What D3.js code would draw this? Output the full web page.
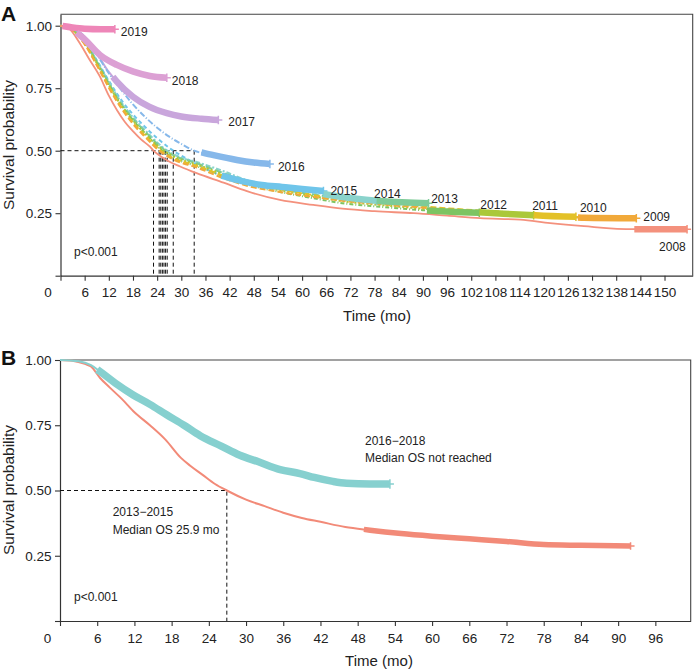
<!DOCTYPE html>
<html><head><meta charset="utf-8">
<script src="https://cdn.jsdelivr.net/npm/d3@7"></script>
<style>
body{margin:0;background:#fff}
text{font-family:"Liberation Sans",Arial,Helvetica,sans-serif;fill:#222}
</style>
</head><body>
<svg id="c" width="698" height="672"></svg>
<script>
// ---------------- DATA ----------------
const yearsA = ["2008","2009","2010","2011","2012","2013","2014","2015","2016","2017","2018","2019"];
const s2008 = [[0,1],[2,0.99],[4.8,0.93],[7,0.87],[9.8,0.796],[12,0.72],[14,0.663],[16,0.615],[18.1,0.576],[20,0.545],[22.2,0.516],[23.1,0.5],[26.4,0.462],[29.7,0.437],[33.8,0.41],[40.5,0.372],[46.3,0.338],[54.5,0.303],[62.8,0.283],[70,0.268],[78,0.258],[87.7,0.25],[96,0.24],[104.2,0.23],[114.2,0.224],[121.6,0.21],[130,0.198],[142.3,0.186],[155.6,0.186]];
const s2009 = [[0,1],[3,0.98],[6,0.925],[9,0.842],[12,0.752],[15,0.672],[18,0.607],[21,0.555],[24.5,0.5],[28,0.465],[33.8,0.433],[40.5,0.39],[46.3,0.36],[54.5,0.335],[62.8,0.315],[70,0.3],[80,0.285],[90,0.272],[100,0.262],[110,0.25],[120,0.238],[130,0.232],[143,0.23]];
const s2010 = [[0,1],[3,0.982],[6,0.928],[9,0.846],[12,0.757],[15,0.677],[18,0.612],[21,0.56],[24.9,0.5],[28,0.47],[33.8,0.44],[40.5,0.4],[46.3,0.37],[54.5,0.345],[62.8,0.322],[70,0.305],[80,0.29],[90,0.277],[100,0.265],[110,0.255],[118,0.242],[128,0.236]];
const s2011 = [[0,1],[3,0.982],[6,0.93],[9,0.85],[12,0.762],[15,0.683],[18,0.62],[21,0.568],[25.7,0.5],[29,0.47],[33.8,0.445],[40.5,0.405],[46.3,0.372],[54.5,0.342],[62.8,0.318],[70,0.298],[80,0.282],[90,0.268],[100,0.258],[110,0.248],[117.5,0.242]];
const s2012 = [[0,1],[3,0.983],[6,0.932],[9,0.852],[12,0.765],[15,0.685],[18,0.622],[21,0.57],[25.3,0.5],[29,0.465],[33.8,0.438],[40.5,0.398],[46.3,0.365],[54.5,0.335],[62.8,0.31],[70,0.29],[80,0.275],[90,0.262],[97,0.256],[104,0.252]];
const s2013 = [[0,1],[3,0.984],[6,0.935],[9,0.857],[12,0.77],[15,0.69],[18,0.628],[21,0.577],[26.1,0.5],[29,0.475],[33.8,0.45],[40.5,0.41],[46.3,0.377],[54.5,0.347],[62.8,0.325],[70,0.31],[80,0.298],[91.4,0.29]];
const s2014 = [[0,1],[3,0.985],[6,0.937],[9,0.86],[12,0.775],[15,0.696],[18,0.633],[21,0.582],[26.5,0.5],[30,0.472],[33.8,0.455],[40.5,0.418],[46.3,0.382],[54.5,0.355],[62.8,0.333],[70,0.315],[78.5,0.3]];
const s2015 = [[0,1],[3,0.986],[6,0.94],[9,0.862],[12,0.78],[15,0.705],[18,0.645],[21,0.595],[24,0.55],[28,0.5],[32,0.462],[36,0.428],[40,0.4],[45,0.378],[50,0.363],[55,0.355],[60,0.347],[65.3,0.339]];
const s2016 = [[0,1],[3,0.99],[6,0.955],[9,0.885],[12,0.81],[15,0.745],[18,0.685],[21,0.635],[24,0.592],[27,0.556],[30,0.527],[33.2,0.5],[38,0.482],[43.8,0.463],[48,0.453],[52,0.447]];
const s2017 = [[0,1],[3,0.99],[6,0.955],[9,0.89],[12,0.815],[14,0.776],[18,0.716],[22,0.676],[26.4,0.65],[30,0.637],[35,0.628],[39.2,0.623]];
const s2018 = [[0,1],[3,0.985],[5.7,0.95],[9.8,0.883],[14,0.843],[18.1,0.816],[22.2,0.799],[26.4,0.792]];
const s2019 = [[0,1],[3,0.993],[6,0.988],[10,0.986],[13.5,0.986]];
const seriesA = [s2008,s2009,s2010,s2011,s2012,s2013,s2014,s2015,s2016,s2017,s2018,s2019];
// time from which the dense censoring marks start
const censorStartA = [142.5,128.5,117.5,104,91,78.5,65.3,40,35,13,4,0.5];
const mediansA = [23.1,24.5,24.9,25.7,25.3,26.1,26.5,28.0,33.2];
const xTicksA = d3.range(0,151,6);
const yTicks = [0,0.25,0.5,0.75,1];
const yTickLabels = ["","0.25","0.50","0.75","1.00"];

const groupsB = ["2013\u22122015","2016\u22122018"];
const sB1315 = [[0,1],[2,0.997],[4,0.985],[5,0.975],[6.5,0.93],[8,0.895],[10,0.85],[12,0.8],[14.5,0.75],[17,0.695],[19.5,0.625],[21,0.595],[23,0.56],[25,0.525],[26.9,0.5],[30,0.465],[33,0.44],[36,0.415],[39,0.395],[42,0.38],[46,0.36],[50,0.348],[55,0.335],[60,0.325],[66,0.315],[72,0.305],[78,0.293],[84,0.29],[92,0.287]];
const sB1618 = [[0,1],[3,0.995],[5,0.98],[6.5,0.955],[9,0.91],[11.8,0.866],[14.5,0.83],[17.2,0.79],[20,0.75],[22.6,0.71],[26,0.67],[29,0.635],[32,0.61],[35.5,0.58],[38.7,0.565],[41,0.55],[44,0.535],[46.2,0.528],[50,0.525],[53.2,0.525]];
const censorStartB = [49, 6];
const medianB = 26.9;
const xTicksB = d3.range(0,97,6);

// ---------------- STYLE ----------------
const colA = ["#F4917D","#F1A93A","#E3C128","#ABC83A","#7DC462","#7DCB98","#8AD3CC","#6FC5EA","#86B8EA","#C9A6DC","#DCA0D4","#EE86B8"];
const dashA = [null,"6,3","6,3","2,2","4,2,1,2","7,3","5,2,2,2","4,3","6,2,1,2",null,null,null];
const labelDx = [-28,7,4,-1.5,1,2.6,-2.5,7,8,10,5,6];
const labelDy = [22,2.8,-4.7,-5.7,-4,-0.7,-3,4.5,6.6,6.5,6.8,6.8];
const colB = ["#F28A78","#86D0CF"];
const FS = 13.5;

const svg = d3.select("#c");

function interp(pts, t){
  for(let i=1;i<pts.length;i++){
    if(pts[i][0]>=t){
      const a=pts[i-1], b=pts[i], f=(t-a[0])/(b[0]-a[0]);
      return [t, a[1]+f*(b[1]-a[1])];
    }
  }
  return pts[pts.length-1];
}

function drawPanel(opt){
  const g = svg.append("g");
  const x = d3.scaleLinear().domain(opt.xDomain).range(opt.xRange);
  const y = d3.scaleLinear().domain(opt.yDomain).range(opt.yRange);
  g.append("path").attr("d",`M${opt.xRange[0]},${opt.yRange[1]}H${opt.xRange[1]}V${opt.yRange[0]}`)
    .attr("fill","none").attr("stroke","#444").attr("stroke-width",1.1);
  const xa = g.append("g").attr("transform",`translate(0,${opt.yRange[0]})`)
    .call(d3.axisBottom(x).tickValues(opt.xTicks).tickSize(5).tickSizeOuter(0).tickPadding(7).tickFormat(d3.format("d")));
  xa.selectAll("text").filter(d=>d===0).attr("x",-13);
  const ya = g.append("g").attr("transform",`translate(${opt.xRange[0]},0)`)
    .call(d3.axisLeft(y).tickValues(yTicks).tickSize(5).tickSizeOuter(0).tickPadding(3.5).tickFormat((d,i)=>yTickLabels[i]));
  [xa,ya].forEach(a=>{
    a.select(".domain").attr("stroke","#333").attr("stroke-width",1.2);
    a.selectAll(".tick line").attr("stroke","#333").attr("stroke-width",1.1);
    a.selectAll("text").attr("font-size",FS).attr("fill","#222").style("font-family",'"Liberation Sans",Arial,sans-serif');
  });
  return {g,x,y};
}

const line = (x,y)=>d3.line().x(d=>x(d[0])).y(d=>y(d[1])).curve(d3.curveMonotoneX);

function drawCurve(g,x,y,pts,color,dash,lw){
  g.append("path").attr("d",line(x,y)(pts)).attr("fill","none").attr("stroke",color)
    .attr("stroke-width",lw).attr("stroke-dasharray",dash);
}
function drawBand(g,x,y,pts,color,cStart,bw){
  const seg=[interp(pts,cStart)].concat(pts.filter(p=>p[0]>cStart));
  g.append("path").attr("d",line(x,y)(seg)).attr("fill","none").attr("stroke",color)
    .attr("stroke-width",bw).attr("stroke-linecap","butt");
  const e=pts[pts.length-1];
  g.append("path").attr("d",`M${x(e[0])},${y(e[1])-bw/2-1}V${y(e[1])+bw/2+1}M${x(e[0])},${y(e[1])}h4`)
    .attr("stroke",color).attr("stroke-width",1.5).attr("fill","none");
}

// ---------------- PANEL A ----------------
{
  const {g,x,y} = drawPanel({xDomain:[0,157],xRange:[60.5,692.7],yDomain:[0,1.046],yRange:[275.7,14.2],xTicks:xTicksA});
  g.append("path").attr("d",`M${x(0)},${y(0.5)}H${x(d3.max(mediansA))}`).attr("stroke","#111").attr("stroke-width",1).attr("stroke-dasharray","4,3").attr("fill","none");
  mediansA.forEach(m=>{
    g.append("path").attr("d",`M${x(m)},${y(0.5)}V${y(0)}`).attr("stroke","#111").attr("stroke-width",1).attr("stroke-dasharray","4,3").attr("fill","none");
  });
  for(let i=seriesA.length-1;i>=0;i--) drawCurve(g,x,y,seriesA[i],colA[i],dashA[i],i===0?1.8:2);
  for(let i=seriesA.length-1;i>=0;i--) drawBand(g,x,y,seriesA[i],colA[i],censorStartA[i],6.5);
  yearsA.forEach((yr,i)=>{
    const e=seriesA[i][seriesA[i].length-1];
    g.append("text").attr("x",x(e[0])+labelDx[i]).attr("y",y(e[1])+labelDy[i]).attr("font-size",12).text(yr);
  });
  g.append("text").attr("x",74).attr("y",255.5).attr("font-size",12).text("p<0.001");
  svg.append("text").attr("x",377).attr("y",321).attr("text-anchor","middle").attr("font-size",15).text("Time (mo)");
  svg.append("text").attr("transform","translate(13.5,145) rotate(-90)").attr("text-anchor","middle").attr("font-size",15.5).text("Survival probability");
  svg.append("text").attr("x",1).attr("y",21).attr("font-size",21).attr("font-weight","bold").style("fill","#111").text("A");
}

// ---------------- PANEL B ----------------
{
  const {g,x,y} = drawPanel({xDomain:[0,101.7],xRange:[60,690.7],yDomain:[0,1],yRange:[621,360],xTicks:xTicksB});
  g.append("path").attr("d",`M${x(0)},${y(0.5)}H${x(medianB)}V${y(0)}`).attr("stroke","#111").attr("stroke-width",1).attr("stroke-dasharray","4,3").attr("fill","none");
  const sB=[sB1315,sB1618];
  sB.forEach((s,i)=>drawCurve(g,x,y,s,colB[i],null,2));
  sB.forEach((s,i)=>drawBand(g,x,y,s,colB[i],censorStartB[i],i===0?5.5:7.5));
  g.append("text").attr("x",112.7).attr("y",516).attr("font-size",12).text(groupsB[0]);
  g.append("text").attr("x",112.7).attr("y",533.5).attr("font-size",12).text("Median OS 25.9 mo");
  g.append("text").attr("x",365).attr("y",444.5).attr("font-size",12).text(groupsB[1]);
  g.append("text").attr("x",365).attr("y",462).attr("font-size",12).text("Median OS not reached");
  g.append("text").attr("x",74).attr("y",601).attr("font-size",12).text("p<0.001");
  svg.append("text").attr("x",379).attr("y",666).attr("text-anchor","middle").attr("font-size",15).text("Time (mo)");
  svg.append("text").attr("transform","translate(13.5,490) rotate(-90)").attr("text-anchor","middle").attr("font-size",15.5).text("Survival probability");
  svg.append("text").attr("x",1).attr("y",365).attr("font-size",21).attr("font-weight","bold").style("fill","#111").text("B");
}
</script>
</body></html>
